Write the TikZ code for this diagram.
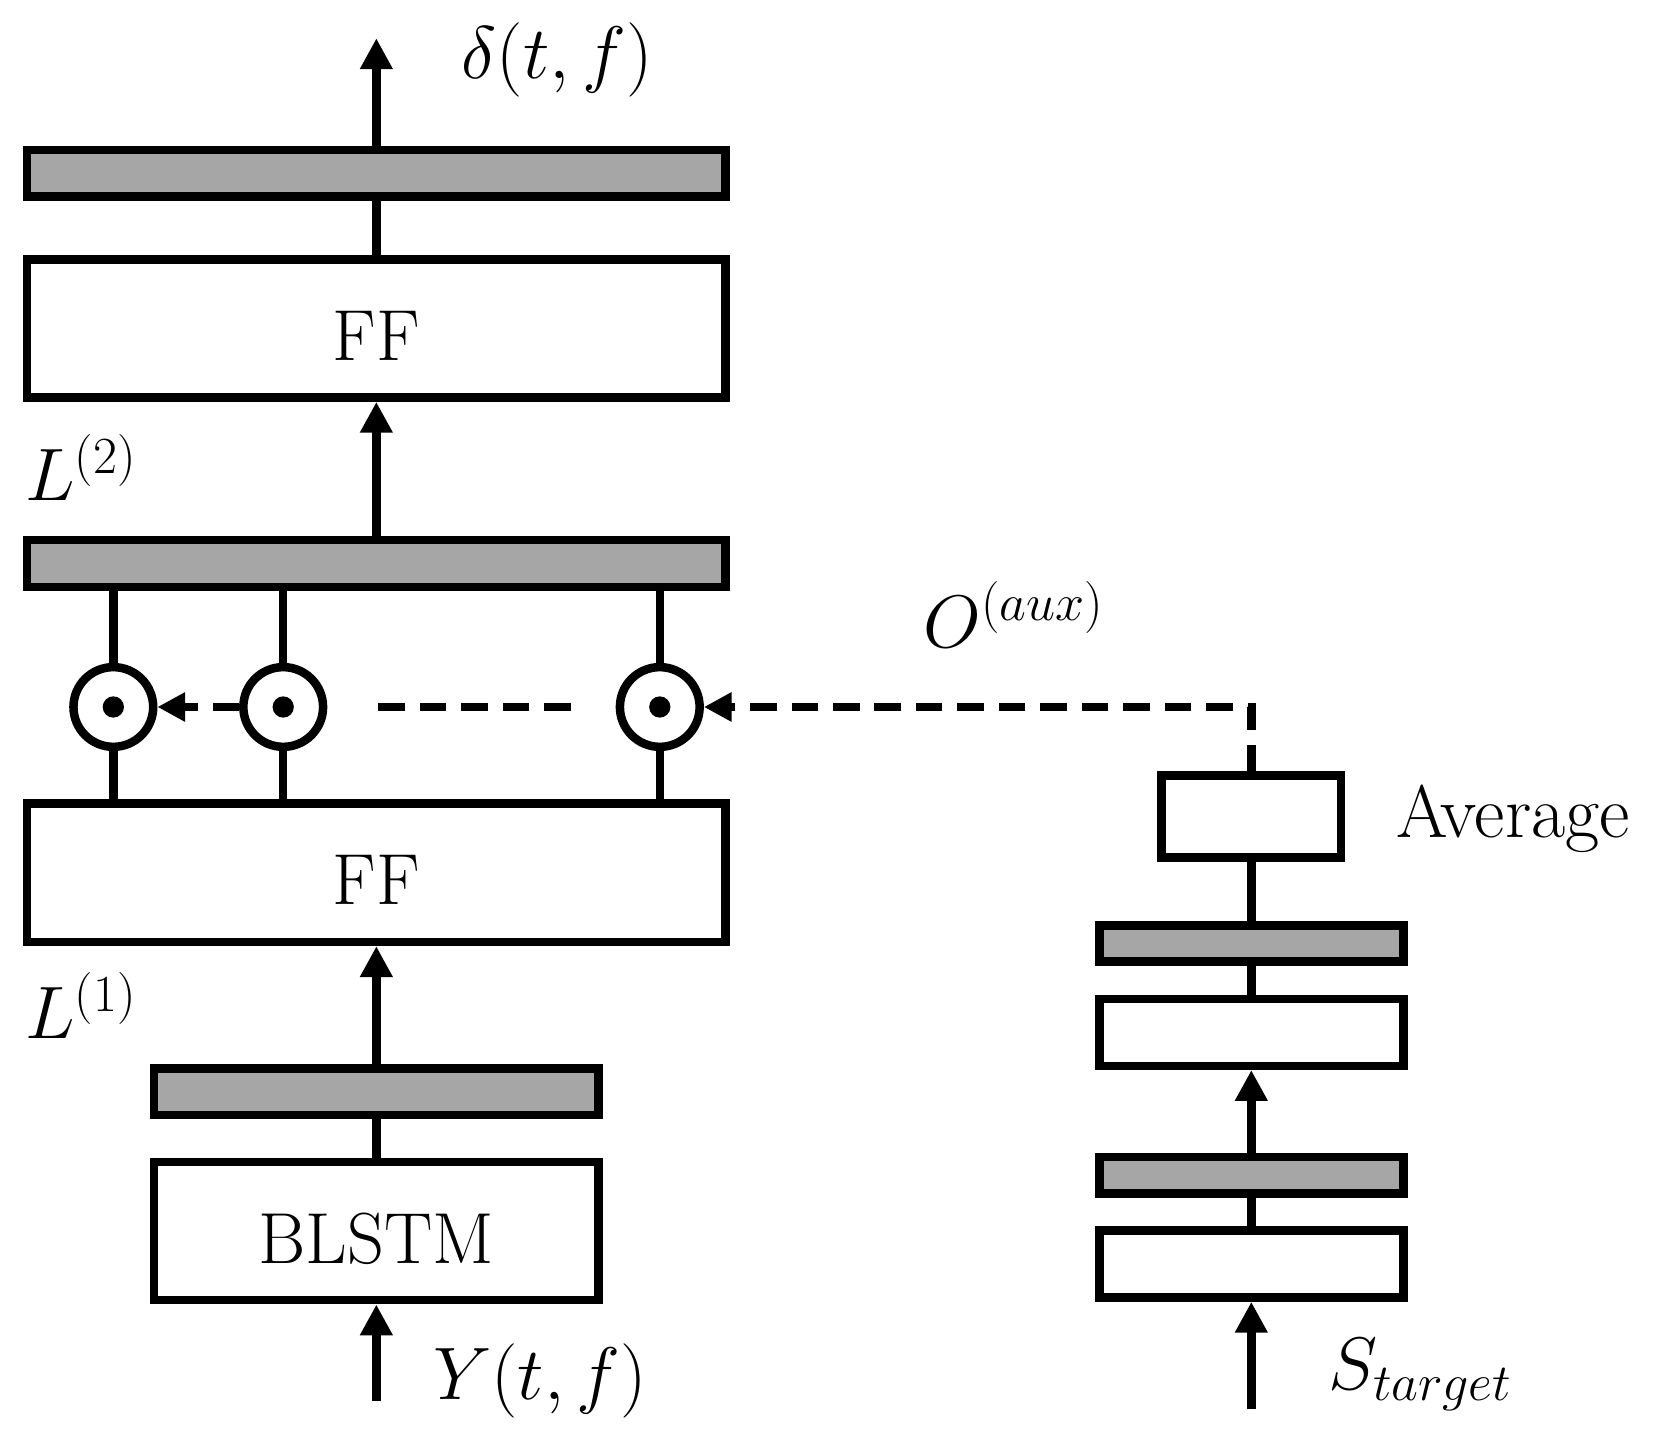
\RequirePackage{fix-cm}
\documentclass[tikz,border=0pt]{standalone}
\usetikzlibrary{arrows.meta, positioning, calc}
\definecolor{barGray}{RGB}{166, 166, 166}
\tikzset{
    block/.style={rectangle, draw=black, line width=4pt, fill=white, inner sep=0pt, font=\fontsize{34}{40}\selectfont},
    widebox/.style={block, minimum width=328.5pt, minimum height=65pt, text height=30pt, text depth=0pt},
    widebar/.style={block, fill=barGray, minimum width=328.5pt, minimum height=22pt},
    smallbox/.style={block, minimum width=143pt, minimum height=31.5pt},
    smallbar/.style={block, fill=barGray, minimum width=143pt, minimum height=17pt},
    avgbox/.style={block, minimum width=84.5pt, minimum height=38.5pt},
    mult/.style={circle, draw=black, line width=4pt, fill=white, minimum size=37.5pt, inner sep=0pt,
        path picture={\fill [black] (path picture bounding box.center) circle (5pt);}},
    lbl/.style={inner sep=0pt, anchor=base west, font=\fontsize{35}{40}\selectfont},
    conn/.style={line width=4pt, draw=black},
    arrow/.style={conn, -{Triangle[length=14.5pt, width=14.5pt]}},
    dasharrow/.style={conn, -{Triangle[length=13pt, width=13pt]}, dash pattern=on 12.5pt off 7pt},
    dashline/.style={conn, dash pattern=on 12.5pt off 7pt}
}

\begin{document}
\begin{tikzpicture}
    \useasboundingbox (-177pt,-96.5pt) rectangle (607pt,579pt);

    % Main stack
    \node (blstm) [widebox, minimum width=209pt] at (0,0) {BLSTM};
    \node (bar1) [widebar, minimum width=209pt, above=18pt of blstm] {};
    \node (ff1) [widebox, above=55.5pt of bar1] {FF};
    \node (bar2) [widebar, above=98pt of ff1] {};
    \node (ff2) [widebox, above=63pt of bar2] {FF};
    \node (bar3) [widebar, above=25.5pt of ff2] {};
    \coordinate [above=50.5pt of bar3] (dout);
    \coordinate [below=45.5pt of blstm] (yin);

    % Element-wise products
    \node (m1) [mult] at ($(ff1.north)+(-123.7pt,43.5pt)$) {};
    \node (m2) [mult] at ($(ff1.north)+(-43.8pt,43.5pt)$) {};
    \node (m3) [mult] at ($(ff1.north)+(133.3pt,43.5pt)$) {};

    % Auxiliary branch
    \node (tbox2) [smallbox] at (411.5pt,-15.5pt) {};
    \node (tbar2) [smallbar, above=13.5pt of tbox2] {};
    \node (tbox1) [smallbox, above=39pt of tbar2] {};
    \node (tbar1) [smallbar, above=13.5pt of tbox1] {};
    \node (avg) [avgbox, above=28pt of tbar1] {};
    \coordinate [below=50.5pt of tbox2] (sin);

    % Labels
    \node (dlab) [lbl] at ($(dout)+(40pt,-19pt)$) {$\delta(t,f)$};
    \node (l2lab) [lbl] at ($(ff2.south west)+(1pt,-46.5pt)$) {$L^{(2)}$};
    \node (l1lab) [lbl] at ($(ff1.south west)+(1pt,-43.5pt)$) {$L^{(1)}$};
    \node (olab) [lbl] at ($(m3.east)+(103pt,28pt)$) {$O^{(aux)}$};
    \node (avglab) [lbl] at ($(avg.east)+(24pt,-9.75pt)$) {Average};
    \node (ylab) [lbl] at ($(yin)+(26.5pt,1pt)$) {$Y(t,f)$};
    \node (slab) [lbl] at ($(sin)+(36pt,9.25pt)$) {$S_{target}$};

    % Connecting
    \draw [arrow] (yin) -- (blstm);
    \draw [conn] (blstm) -- (bar1);
    \draw [arrow] (bar1) -- (ff1);
    \draw [arrow] (bar2) -- (ff2);
    \draw [conn] (ff2) -- (bar3);
    \draw [arrow] (bar3) -- (dout);

    \foreach \m in {m1,m2,m3} {
        \draw [conn] (\m) -- (\m |- ff1.north);
        \draw [conn] (\m) -- (\m |- bar2.south);
    }
    \draw [dasharrow] (m2) -- (m1);
    \draw [dashline] ([xshift=24pt]m2.east) -- ([xshift=-20pt]m3.west);
    \draw [dasharrow] (avg) |- (m3);

    \draw [arrow] (sin) -- (tbox2);
    \draw [conn] (tbox2) -- (tbar2);
    \draw [arrow] (tbar2) -- (tbox1);
    \draw [conn] (tbox1) -- (tbar1);
    \draw [conn] (tbar1) -- (avg);

\end{tikzpicture}
\end{document}
